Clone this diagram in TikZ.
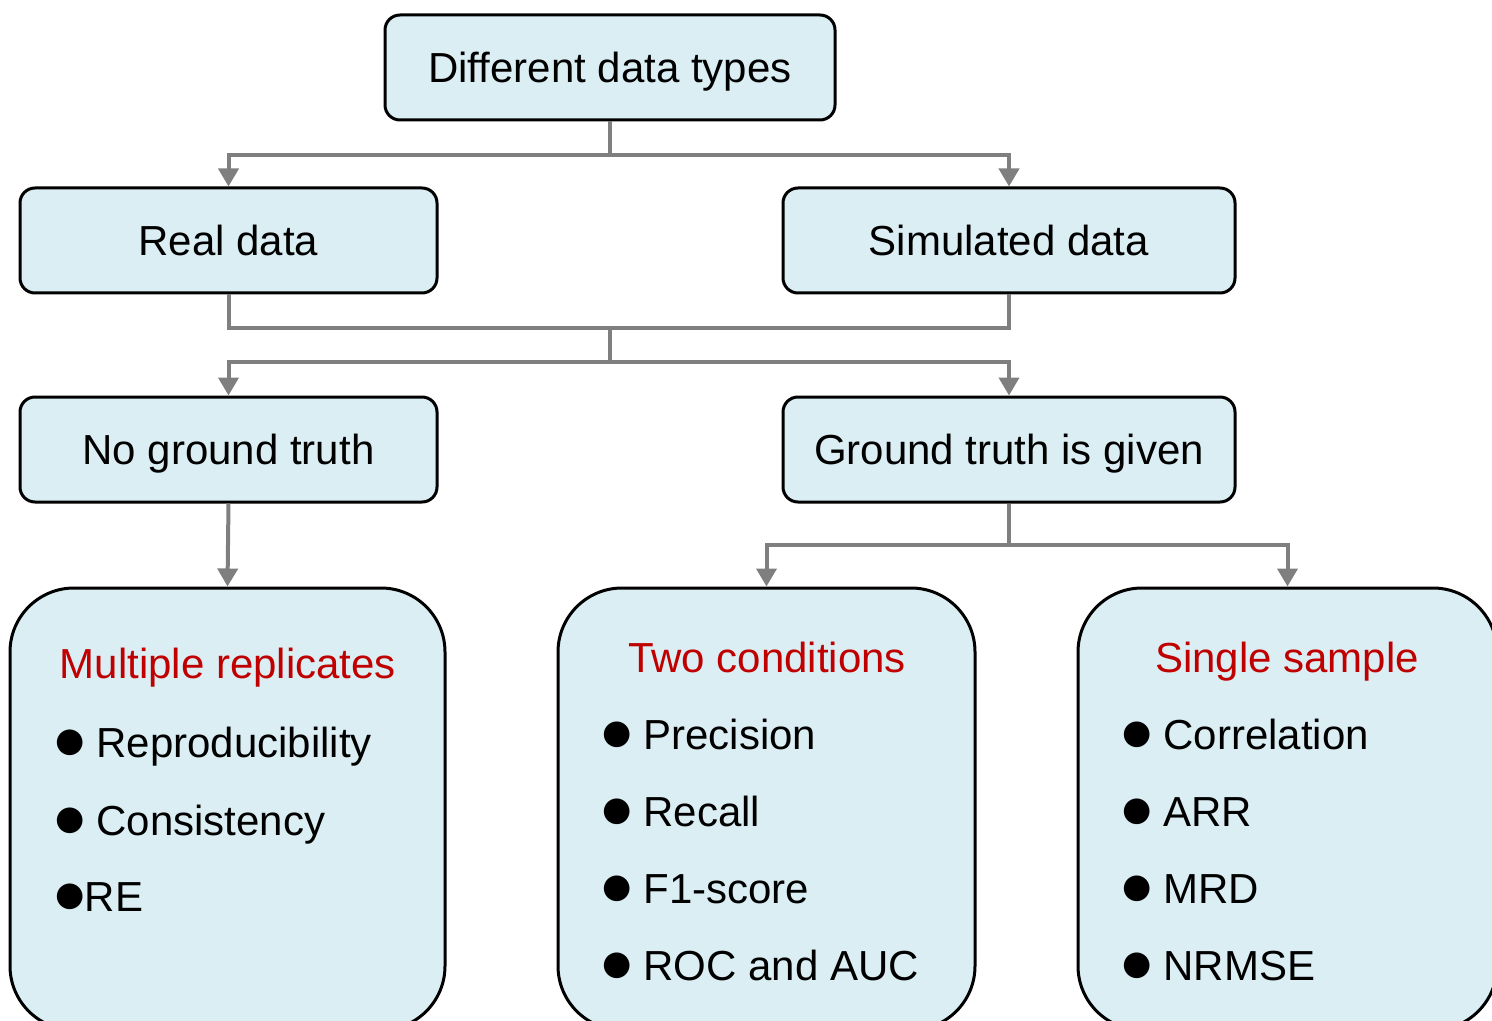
\documentclass[tikz,border=0pt]{standalone}
\usepackage{fontspec}
\setmainfont{Liberation Sans}
\newfontfamily\symfont{DejaVu Sans}
\usetikzlibrary{arrows.meta,positioning}
\definecolor{boxblue}{HTML}{DAEEF3}
\definecolor{linkgray}{HTML}{7F7F7F}
\definecolor{titlered}{HTML}{C00000}
\newcommand{\itm}{\raisebox{3pt}{\symfont\fontsize{16.8}{20}\selectfont ●}}

\begin{document}
\begin{tikzpicture}[x=0.5pt,y=-0.5pt,
  box/.style={draw=black,line width=1.5pt,fill=boxblue,rounded corners=7.5pt,
              inner sep=0pt,font=\fontsize{21}{25}\selectfont,
              text height=15pt,text depth=0pt,minimum height=52.5pt},
  panel/.style={draw=black,line width=1.5pt,fill=boxblue,rounded corners=32pt,
                inner sep=0pt,minimum height=221pt},
  ttl/.style={font=\fontsize{21}{25}\selectfont,text=titlered,anchor=base},
  lst/.style={font=\fontsize{21}{25}\selectfont,anchor=base west,inner sep=0pt},
  link/.style={draw=linkgray,line width=2pt},
  arr/.style={link,-{Triangle[width=10pt,length=9pt]}}
]
\useasboundingbox (0,0) rectangle (1492,1021);
\clip (0,0) rectangle (1492,1021);

% ---- Top level ----------------------------------------------
\node[box,minimum width=225pt]   (types)  at (610,67.5)    {Different data types};

% ---- Data sources -------------------------------------------
\node[box,minimum width=208.5pt] (real)   at (228.5,240.5) {Real data};
\node[box,minimum width=226pt]   (sim)    at (1009,240.5)  {Simulated data};

% ---- Ground truth -------------------------------------------
\node[box,minimum width=208.5pt] (noGT)   at (228.5,449.5) {No ground truth};
\node[box,minimum width=226pt]   (GT)     at (1009,449.5)  {Ground truth is given};

% ---- Metric panels ------------------------------------------
\node[panel,minimum width=217.5pt] (multi)  at (227.5,809) {};
\node[panel,minimum width=208.5pt] (two)    at (766.5,809) {};
\node[panel,minimum width=209.5pt] (single) at (1287.5,809) {};

\node[ttl] (multiT)  at (228,678) {Multiple replicates};
\node[lst] (multi1)  at (55,757)  {\itm\ Reproducibility};
\node[lst] (multi2)  at (55,835)  {\itm\ Consistency};
\node[lst] (multi3)  at (55,911)  {\itm RE};

\node[ttl] (twoT)    at (767,672) {Two conditions};
\node[lst] (two1)    at (602,749) {\itm\ Precision};
\node[lst] (two2)    at (602,826) {\itm\ Recall};
\node[lst] (two3)    at (602,903) {\itm\ F1-score};
\node[lst] (two4)    at (602,980) {\itm\ ROC and AUC};

\node[ttl] (singleT) at (1287,672) {Single sample};
\node[lst] (single1) at (1122,749) {\itm\ Correlation};
\node[lst] (single2) at (1122,826) {\itm\ ARR};
\node[lst] (single3) at (1122,903) {\itm\ MRD};
\node[lst] (single4) at (1122,980) {\itm\ NRMSE};

% ---- Connectors ---------------------------------------------
\coordinate (s1) at (610,155);
\coordinate (m1) at (610,328);
\coordinate (s2) at (610,362);
\coordinate (s3) at (1009,545);

\draw[link] (types.south) -- (s1);
\draw[arr]  (s1) -| (real.north);
\draw[arr]  (s1) -| (sim.north);

\draw[link] (real.south) |- (m1) -| (sim.south);
\draw[link] (m1) -- (s2);
\draw[arr]  (s2) -| (noGT.north);
\draw[arr]  (s2) -| (GT.north);

\draw[arr]  (noGT.south) -- (multi.north);
\draw[link] (GT.south) -- (s3);
\draw[arr]  (s3) -| (two.north);
\draw[arr]  (s3) -| (single.north);

\end{tikzpicture}
\end{document}
